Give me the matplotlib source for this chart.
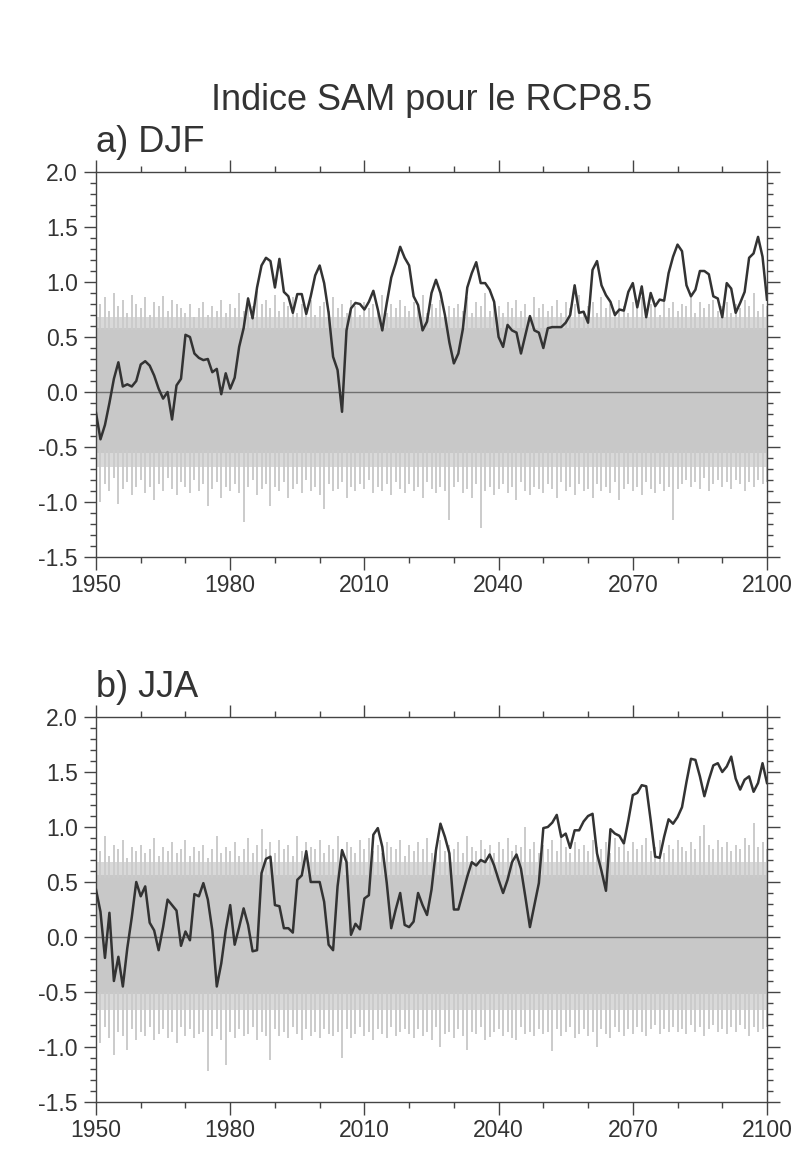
import matplotlib
matplotlib.use('Agg')
import matplotlib.pyplot as plt
from matplotlib.ticker import MultipleLocator, FormatStrFormatter
import numpy as np

plt.rcParams['font.family'] = ['Liberation Sans', 'DejaVu Sans']
plt.rcParams['axes.unicode_minus'] = False

years = np.arange(1950, 2101)

# Indice SAM DJF (moyenne d'ensemble, trait noir)
sam_djf = [
    -0.19, -0.43, -0.30, -0.10, 0.12, 0.27, 0.05, 0.07, 0.05, 0.10,
    0.25, 0.28, 0.24, 0.15, 0.03, -0.06, 0.00, -0.25, 0.06, 0.12,
    0.52, 0.50, 0.35, 0.31, 0.29, 0.30, 0.18, 0.21, -0.02, 0.17,
    0.03, 0.13, 0.41, 0.58, 0.85, 0.67, 0.95, 1.15, 1.22, 1.19,
    0.95, 1.21, 0.91, 0.87, 0.72, 0.89, 0.89, 0.71, 0.87, 1.06,
    1.15, 0.99, 0.72, 0.32, 0.20, -0.18, 0.56, 0.76, 0.81, 0.80,
    0.75, 0.82, 0.92, 0.75, 0.56, 0.81, 1.04, 1.17, 1.32, 1.22,
    1.15, 0.87, 0.79, 0.56, 0.64, 0.90, 1.02, 0.90, 0.70, 0.45,
    0.26, 0.35, 0.57, 0.95, 1.08, 1.18, 0.99, 0.99, 0.93, 0.82,
    0.50, 0.41, 0.61, 0.56, 0.54, 0.35, 0.52, 0.69, 0.56, 0.54,
    0.40, 0.58, 0.59, 0.59, 0.59, 0.63, 0.70, 0.97, 0.72, 0.73,
    0.63, 1.11, 1.19, 0.97, 0.88, 0.82, 0.70, 0.75, 0.74, 0.91,
    0.99, 0.77, 0.96, 0.68, 0.90, 0.78, 0.84, 0.83, 1.08, 1.23,
    1.34, 1.28, 0.97, 0.87, 0.93, 1.10, 1.10, 1.07, 0.87, 0.85,
    0.68, 0.99, 0.94, 0.72, 0.81, 0.91, 1.22, 1.26, 1.41, 1.23,
    0.84,
]

# Indice SAM JJA
sam_jja = [
    0.43, 0.23, -0.19, 0.22, -0.40, -0.18, -0.45, -0.10, 0.18, 0.50,
    0.37, 0.46, 0.13, 0.06, -0.12, 0.09, 0.34, 0.29, 0.24, -0.08,
    0.05, -0.03, 0.39, 0.37, 0.49, 0.34, 0.06, -0.45, -0.24, 0.06,
    0.29, -0.07, 0.09, 0.26, 0.11, -0.13, -0.12, 0.58, 0.71, 0.73,
    0.29, 0.28, 0.08, 0.08, 0.04, 0.52, 0.56, 0.78, 0.50, 0.50,
    0.50, 0.32, -0.07, -0.12, 0.46, 0.79, 0.68, 0.02, 0.12, 0.07,
    0.35, 0.38, 0.93, 0.99, 0.82, 0.49, 0.08, 0.25, 0.40, 0.11,
    0.09, 0.14, 0.40, 0.29, 0.20, 0.43, 0.79, 1.03, 0.91, 0.76,
    0.25, 0.25, 0.40, 0.55, 0.68, 0.65, 0.70, 0.68, 0.75, 0.65,
    0.52, 0.40, 0.52, 0.68, 0.75, 0.62, 0.36, 0.09, 0.29, 0.49,
    0.99, 1.00, 1.04, 1.11, 0.91, 0.94, 0.81, 0.97, 0.97, 1.05,
    1.10, 1.12, 0.76, 0.60, 0.42, 0.98, 0.94, 0.92, 0.85, 1.06,
    1.29, 1.31, 1.38, 1.37, 1.06, 0.73, 0.72, 0.91, 1.07, 1.03,
    1.09, 1.18, 1.41, 1.62, 1.61, 1.46, 1.28, 1.43, 1.56, 1.58,
    1.50, 1.55, 1.64, 1.44, 1.34, 1.43, 1.46, 1.32, 1.40, 1.58,
    1.40,
]

# enveloppe grise (membres individuels) : pointes hautes / basses par an
spread_hi_djf = [
    0.88, 0.80, 0.86, 0.74, 0.90, 0.78, 0.84, 0.72, 0.88, 0.80,
    0.76, 0.86, 0.70, 0.82, 0.78, 0.87, 0.74, 0.84, 0.80, 0.76,
    0.72, 0.80, 0.68, 0.76, 0.82, 0.70, 0.78, 0.74, 0.84, 0.72,
    0.80, 0.76, 0.90, 0.74, 0.86, 0.78, 0.92, 0.80, 0.84, 0.76,
    0.88, 0.74, 0.82, 0.78, 0.86, 0.72, 0.80, 0.76, 0.84, 0.70,
    0.78, 0.82, 0.74, 0.86, 0.76, 0.80, 0.72, 0.84, 0.78, 0.70,
    0.82, 0.76, 0.80, 0.74, 0.88, 0.72, 0.80, 0.76, 0.84, 0.78,
    0.74, 0.82, 0.78, 0.88, 0.72, 0.80, 0.76, 0.84, 0.70, 0.78,
    0.76, 0.80, 0.74, 0.86, 0.72, 0.82, 0.78, 0.90, 0.74, 0.80,
    0.78, 0.72, 0.82, 0.76, 0.84, 0.74, 0.80, 0.70, 0.86, 0.76,
    0.80, 0.74, 0.78, 0.84, 0.72, 0.82, 0.76, 0.80, 0.88, 0.74,
    0.78, 0.82, 0.72, 0.86, 0.76, 0.80, 0.74, 0.84, 0.78, 0.72,
    0.82, 0.76, 0.86, 0.74, 0.80, 0.78, 0.70, 0.84, 0.76, 0.82,
    0.74, 0.80, 0.78, 0.86, 0.72, 0.82, 0.76, 0.80, 0.84, 0.74,
    0.78, 0.82, 0.72, 0.80, 0.76, 0.84, 0.78, 0.90, 0.74, 0.80,
    0.78,
]
spread_lo_djf = [
    -0.92, -1.00, -0.84, -0.90, -0.78, -1.02, -0.88, -0.82, -0.94, -0.86,
    -0.80, -0.92, -0.86, -0.98, -0.84, -0.90, -0.78, -0.88, -0.94, -0.82,
    -0.86, -0.92, -0.80, -0.90, -0.84, -1.04, -0.88, -0.82, -0.96, -0.86,
    -0.90, -0.84, -0.92, -1.18, -0.86, -0.80, -0.94, -0.88, -0.84, -1.04,
    -0.86, -0.90, -0.82, -0.96, -0.88, -0.84, -0.92, -0.80, -0.90, -0.86,
    -0.94, -1.06, -0.84, -0.90, -0.88, -0.82, -0.96, -0.86, -0.90, -0.84,
    -0.88, -0.80, -0.92, -0.86, -0.90, -0.84, -0.94, -0.82, -0.88, -0.92,
    -0.84, -0.90, -0.86, -0.96, -0.82, -0.88, -0.92, -0.86, -0.90, -1.16,
    -0.86, -0.82, -0.92, -0.88, -0.96, -0.84, -1.24, -0.90, -0.86, -0.94,
    -0.88, -0.84, -0.92, -0.86, -0.98, -0.82, -0.90, -0.94, -0.86, -0.88,
    -0.92, -0.84, -0.88, -0.96, -0.82, -0.90, -0.86, -0.94, -0.84, -0.90,
    -0.88, -0.96, -0.84, -0.90, -0.86, -0.92, -0.82, -0.98, -0.88, -0.84,
    -0.90, -0.86, -0.94, -0.82, -0.88, -0.92, -0.84, -0.90, -0.86, -1.16,
    -0.88, -0.84, -0.80, -0.86, -0.82, -0.88, -0.78, -0.90, -0.84, -0.80,
    -0.86, -0.82, -0.88, -0.80, -0.84, -0.90, -0.82, -0.86, -0.80, -0.84,
    -0.82,
]
spread_hi_jja = [
    0.86, 0.78, 0.92, 0.74, 0.84, 0.80, 0.88, 0.72, 0.82, 0.78,
    0.84, 0.76, 0.80, 0.90, 0.74, 0.82, 0.78, 0.86, 0.76, 0.80,
    0.88, 0.74, 0.82, 0.78, 0.84, 0.72, 0.80, 0.92, 0.76, 0.82,
    0.78, 0.86, 0.74, 0.80, 0.90, 0.76, 0.84, 0.98, 0.80, 0.86,
    0.76, 0.88, 0.80, 0.84, 0.74, 0.92, 0.78, 0.86, 0.82, 0.80,
    0.88, 0.76, 0.84, 0.80, 0.92, 0.78, 0.86, 0.82, 0.76, 0.88,
    0.80, 0.90, 0.78, 0.84, 0.76, 0.86, 0.82, 0.80, 0.88, 0.74,
    0.84, 0.78, 0.86, 0.80, 0.90, 0.76, 0.82, 0.88, 0.78, 0.84,
    0.80, 0.86, 0.76, 0.92, 0.82, 0.78, 0.88, 0.80, 0.84, 0.76,
    0.86, 0.80, 0.90, 0.78, 0.84, 0.82, 1.00, 0.80, 0.86, 0.76,
    0.84, 0.80, 0.88, 0.78, 0.90, 0.82, 0.76, 0.86, 0.80, 0.84,
    0.78, 0.88, 0.82, 0.80, 0.86, 0.76, 0.90, 0.82, 0.84, 0.78,
    0.86, 0.80, 0.84, 0.90, 0.78, 0.82, 0.88, 0.76, 0.84, 0.80,
    0.88, 0.82, 0.78, 0.86, 0.80, 0.92, 1.02, 0.84, 0.80, 0.88,
    0.82, 0.86, 0.78, 0.84, 0.80, 0.90, 0.84, 1.04, 0.82, 0.86,
    0.80,
]
spread_lo_jja = [
    -0.88, -0.96, -0.82, -0.92, -1.07, -0.86, -0.90, -1.03, -0.84, -0.94,
    -0.86, -0.90, -0.82, -0.94, -0.88, -0.84, -0.92, -0.86, -0.96, -0.82,
    -0.90, -0.84, -0.92, -0.88, -0.86, -1.22, -0.90, -0.84, -0.94, -1.16,
    -0.86, -0.92, -0.84, -0.90, -0.88, -0.82, -0.94, -0.86, -0.90, -1.12,
    -0.84, -0.90, -0.86, -0.92, -0.82, -0.88, -0.94, -0.84, -0.90, -0.86,
    -0.92, -0.84, -0.88, -0.90, -0.86, -1.10, -0.84, -0.92, -0.88, -0.82,
    -0.90, -0.86, -0.94, -0.84, -0.88, -0.92, -0.82, -0.90, -0.86, -0.84,
    -0.88, -0.92, -0.84, -0.90, -0.86, -0.94, -0.82, -1.00, -0.88, -0.86,
    -0.92, -0.84, -0.90, -1.03, -0.86, -0.88, -0.82, -0.94, -0.91, -0.86,
    -0.84, -0.90, -0.86, -0.92, -0.94, -0.82, -0.88, -0.86, -0.90, -0.84,
    -0.88, -0.86, -1.04, -0.84, -0.90, -0.86, -0.82, -0.92, -0.88, -0.84,
    -0.90, -0.86, -1.00, -0.84, -0.88, -0.92, -0.82, -0.86, -0.90, -0.84,
    -0.88, -0.82, -0.86, -0.90, -0.84, -0.80, -0.88, -0.84, -0.86, -0.82,
    -0.86, -0.84, -0.88, -0.80, -0.86, -0.82, -0.90, -0.84, -0.80, -0.86,
    -0.84, -0.88, -0.82, -0.86, -0.80, -0.84, -0.90, -0.82, -0.86, -0.84,
    -0.82,
]
# partie pleine de la bande grise (bas, haut) et zone de pointes serrees
core_djf = [-0.55, 0.58]
fuzz_djf = [-0.68, 0.68]
core_jja = [-0.52, 0.56]
fuzz_jja = [-0.66, 0.68]

panel_labels = ['a) DJF', 'b) JJA']
title = 'Indice SAM pour le RCP8.5'


def draw_panel(ax, sam, hi, lo, core, fuzz, label):
    ax.fill_between(years, fuzz[0], fuzz[1], color='#d9d9d9', lw=0, zorder=1)
    ax.fill_between(years, core[0], core[1], color='#c8c8c8', lw=0, zorder=1)
    ax.vlines(years, core[1] - 0.02, hi, color='#cbcbcb', lw=1.4, zorder=1)
    ax.vlines(years, lo, core[0] + 0.02, color='#cbcbcb', lw=1.4, zorder=1)
    ax.axhline(0, color='#707070', lw=1.0, zorder=2)
    ax.plot(years, sam, color='#333333', lw=1.8, zorder=3)

    ax.set_xlim(1950, 2100)
    ax.set_ylim(-1.5, 2.0)
    ax.xaxis.set_major_locator(MultipleLocator(30))
    ax.xaxis.set_minor_locator(MultipleLocator(10))
    ax.yaxis.set_major_locator(MultipleLocator(0.5))
    ax.yaxis.set_minor_locator(MultipleLocator(0.1))
    ax.yaxis.set_major_formatter(FormatStrFormatter('%.1f'))
    ax.tick_params(which='both', direction='out', top=True, right=True,
                   color='#444444', width=1.0)
    ax.tick_params(which='major', length=9, labelsize=16.5, labelcolor='#333333')
    ax.tick_params(axis='x', which='major', pad=3)
    ax.tick_params(axis='y', which='major', pad=4)
    ax.tick_params(which='minor', length=4)
    for sp in ax.spines.values():
        sp.set_color('#444444')
        sp.set_linewidth(1.0)
    ax.text(0.0, 1.052, label, transform=ax.transAxes, fontsize=26,
            color='#333333', ha='left', va='baseline')


fig = plt.figure(figsize=(8.02, 11.53), dpi=100)
ax1 = fig.add_axes([96 / 802, 1 - 557 / 1153, 671 / 802, 385 / 1153])
ax2 = fig.add_axes([96 / 802, 1 - 1102 / 1153, 671 / 802, 385 / 1153])

draw_panel(ax1, sam_djf, spread_hi_djf, spread_lo_djf, core_djf, fuzz_djf,
           panel_labels[0])
draw_panel(ax2, sam_jja, spread_hi_jja, spread_lo_jja, core_jja, fuzz_jja,
           panel_labels[1])

fig.text(431.5 / 802, 1 - 110 / 1153, title, fontsize=26, color='#333333',
         ha='center', va='baseline')

fig.savefig('out.png', dpi=100)
plt.close(fig)
